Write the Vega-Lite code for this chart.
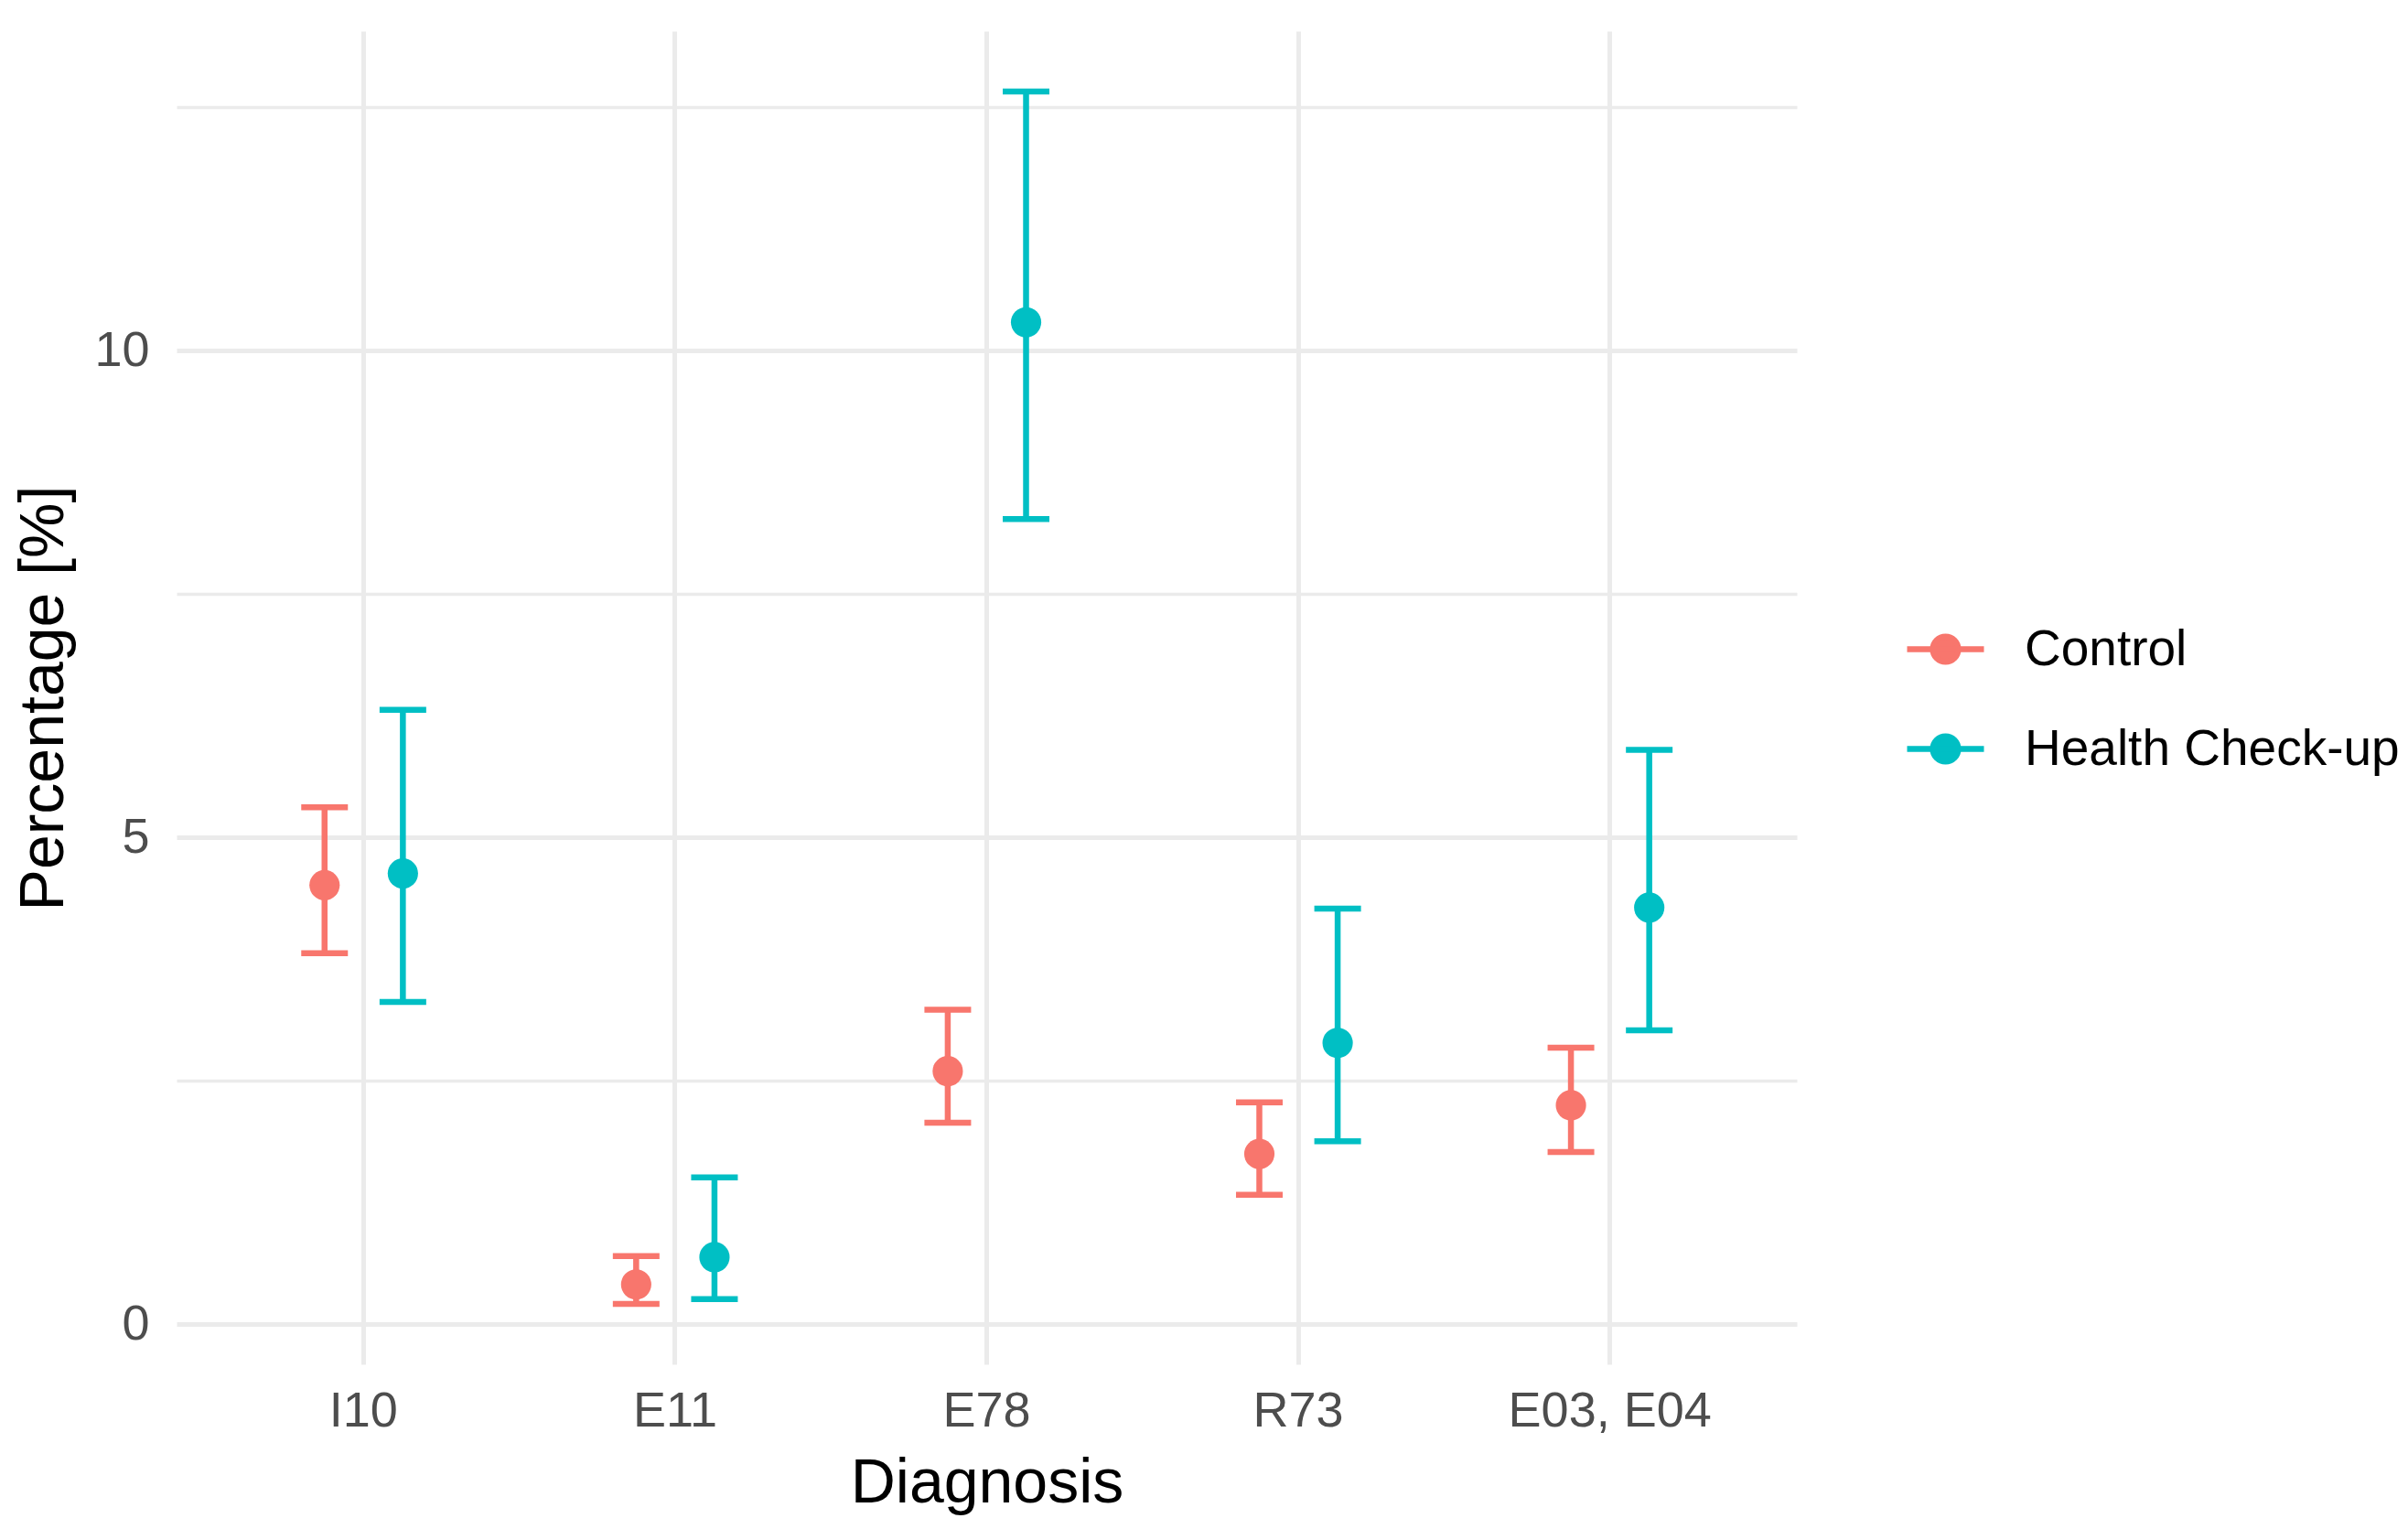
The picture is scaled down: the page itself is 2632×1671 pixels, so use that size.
{
  "$schema": "https://vega.github.io/schema/vega-lite/v6.json",
  "width": 1771,
  "height": 1457,
  "autosize": {"type": "none"},
  "padding": {"left": 193, "top": 34, "right": 668, "bottom": 180},
  "background": "white",
  "config": {"view": {"stroke": null}, "font": "Liberation Sans"},
  "data": {
    "values": [
      {"Diagnosis": "I10", "Group": "Control", "pct": 4.51, "lower": 3.81, "upper": 5.31},
      {"Diagnosis": "I10", "Group": "Health Check-up", "pct": 4.63, "lower": 3.31, "upper": 6.31},
      {"Diagnosis": "E11", "Group": "Control", "pct": 0.41, "lower": 0.21, "upper": 0.70},
      {"Diagnosis": "E11", "Group": "Health Check-up", "pct": 0.69, "lower": 0.26, "upper": 1.51},
      {"Diagnosis": "E78", "Group": "Control", "pct": 2.60, "lower": 2.07, "upper": 3.23},
      {"Diagnosis": "E78", "Group": "Health Check-up", "pct": 10.29, "lower": 8.27, "upper": 12.66},
      {"Diagnosis": "R73", "Group": "Control", "pct": 1.75, "lower": 1.33, "upper": 2.28},
      {"Diagnosis": "R73", "Group": "Health Check-up", "pct": 2.89, "lower": 1.88, "upper": 4.27},
      {"Diagnosis": "E03, E04", "Group": "Control", "pct": 2.25, "lower": 1.77, "upper": 2.84},
      {"Diagnosis": "E03, E04", "Group": "Health Check-up", "pct": 4.28, "lower": 3.02, "upper": 5.90}
    ]
  },
  "encoding": {
    "x": {
      "field": "Diagnosis",
      "type": "nominal",
      "sort": ["I10", "E11", "E78", "R73", "E03, E04"],
      "scale": {"type": "band", "paddingInner": 0, "paddingOuter": 0.1},
      "title": "Diagnosis",
      "axis": {
        "grid": true,
        "bandPosition": 0.5,
        "gridColor": "#EBEBEB",
        "gridWidth": 5,
        "ticks": false,
        "domain": false,
        "labelAngle": 0,
        "labelLimit": 0,
        "labelFontSize": 54,
        "labelColor": "#4D4D4D",
        "labelPadding": 24,
        "titleFontSize": 68,
        "titleColor": "#000000",
        "titleFontWeight": "normal",
        "titlePadding": 18
      }
    },
    "xOffset": {
      "field": "Group",
      "type": "nominal",
      "sort": ["Control", "Health Check-up"],
      "scale": {"type": "point", "padding": 0, "range": [127.7, 213.3]}
    },
    "color": {
      "field": "Group",
      "type": "nominal",
      "scale": {"domain": ["Control", "Health Check-up"], "range": ["#F8766D", "#00BFC4"]},
      "legend": {
        "title": null,
        "orient": "none",
        "legendX": 1888,
        "legendY": 630,
        "padding": 0,
        "symbolType": "M-1,0L1,0M-0.33,0A0.33,0.33,0,1,1,0.33,0A0.33,0.33,0,1,1,-0.33,0Z",
        "symbolSize": 7056,
        "symbolStrokeWidth": 6.5,
        "symbolOpacity": 1,
        "labelFontSize": 55,
        "labelLimit": 0,
        "labelColor": "#000000",
        "labelOffset": 41,
        "rowPadding": 35,
        "encode": {
          "symbols": {
            "update": {
              "fill": {"scale": "color", "field": "value"},
              "stroke": {"scale": "color", "field": "value"},
              "opacity": {"value": 1}
            }
          }
        }
      }
    }
  },
  "layer": [
    {
      "mark": {"type": "rule", "strokeWidth": 6.5},
      "encoding": {
        "y": {
          "field": "lower",
          "type": "quantitative",
          "title": "Percentage [%]",
          "scale": {"domain": [-0.41, 13.28], "nice": false, "zero": false},
          "axis": {
            "values": [0, 2.5, 5, 7.5, 10, 12.5],
            "format": "~g",
            "labelExpr": "datum.value % 5 === 0 ? datum.label : ''",
            "grid": true,
            "gridColor": "#EBEBEB",
            "gridWidth": {"condition": {"test": "datum.value % 5 === 0", "value": 5}, "value": 3.5},
            "ticks": false,
            "domain": false,
            "labelFontSize": 54,
            "labelColor": "#4D4D4D",
            "labelPadding": 30,
            "titleFontSize": 68,
            "titleColor": "#000000",
            "titleFontWeight": "normal",
            "titlePadding": 20
          }
        },
        "y2": {"field": "upper"}
      }
    },
    {
      "mark": {"type": "tick", "thickness": 6.5, "size": 51, "opacity": 1},
      "encoding": {"y": {"field": "lower", "type": "quantitative", "title": "Percentage [%]"}}
    },
    {
      "mark": {"type": "tick", "thickness": 6.5, "size": 51, "opacity": 1},
      "encoding": {"y": {"field": "upper", "type": "quantitative", "title": "Percentage [%]"}}
    },
    {
      "mark": {"type": "point", "filled": true, "size": 1100, "opacity": 1},
      "encoding": {"y": {"field": "pct", "type": "quantitative", "title": "Percentage [%]"}}
    }
  ]
}
